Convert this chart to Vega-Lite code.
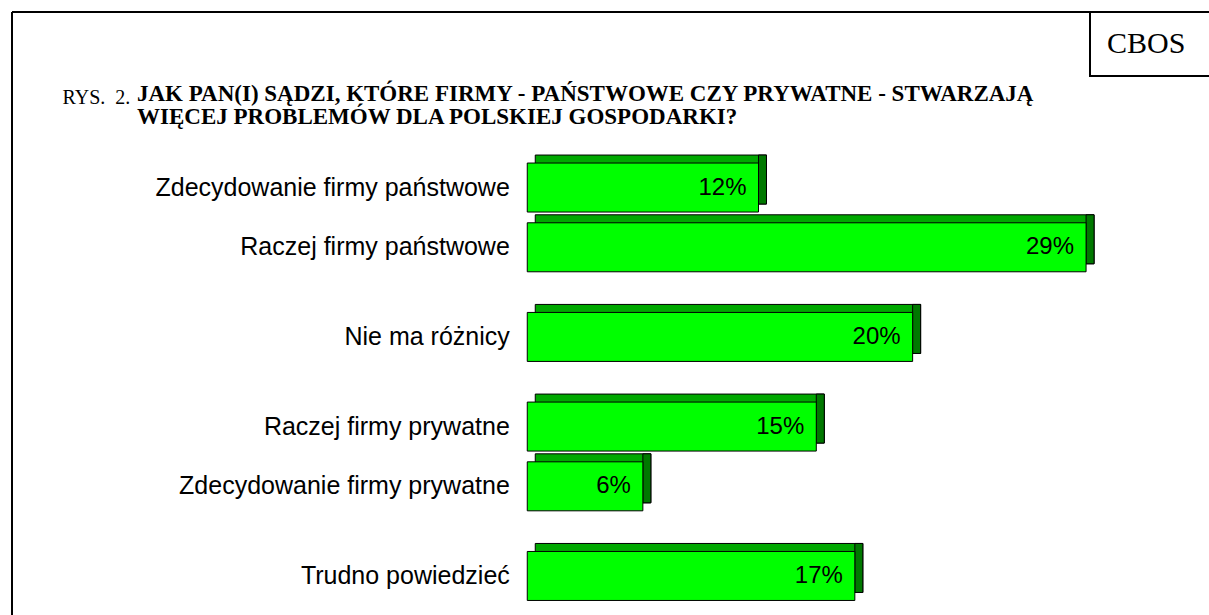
{
  "$schema": "https://vega.github.io/schema/vega-lite/v6.json",
  "autosize": "none",
  "width": 1197,
  "height": 603,
  "padding": {"left": 12, "top": 12, "right": 0, "bottom": 0},
  "background": "white",
  "title": {
    "text": ["JAK PAN(I) SĄDZI, KTÓRE FIRMY - PAŃSTWOWE CZY PRYWATNE - STWARZAJĄ", "WIĘCEJ PROBLEMÓW DLA POLSKIEJ GOSPODARKI?"],
    "anchor": "start",
    "frame": "group",
    "orient": "top",
    "dx": 125,
    "offset": -136,
    "baseline": "alphabetic",
    "font": "Liberation Serif",
    "fontSize": 23,
    "fontWeight": "bold",
    "lineHeight": 23,
    "color": "black"
  },
  "data": {
    "values": [
      {"kategoria": "Zdecydowanie firmy państwowe", "udzial": 0.12, "zrodlo": "CBOS"},
      {"kategoria": "Raczej firmy państwowe", "udzial": 0.29, "zrodlo": "CBOS"},
      {"kategoria": "Nie ma różnicy", "udzial": 0.20, "zrodlo": "CBOS"},
      {"kategoria": "Raczej firmy prywatne", "udzial": 0.15, "zrodlo": "CBOS"},
      {"kategoria": "Zdecydowanie firmy prywatne", "udzial": 0.06, "zrodlo": "CBOS"},
      {"kategoria": "Trudno powiedzieć", "udzial": 0.17, "zrodlo": "CBOS"}
    ]
  },
  "encoding": {
    "y": {
      "field": "kategoria",
      "type": "nominal",
      "scale": {
        "domain": ["Zdecydowanie firmy państwowe", " ", "Raczej firmy państwowe", "  ", "   ", "Nie ma różnicy", "    ", "     ", "Raczej firmy prywatne", "      ", "Zdecydowanie firmy prywatne", "       ", "        ", "Trudno powiedzieć"],
        "range": [160.6, 578.9],
        "paddingInner": 0,
        "paddingOuter": 0
      },
      "axis": {
        "orient": "left",
        "offset": -515.3,
        "domain": false,
        "ticks": false,
        "grid": false,
        "labelPadding": 18,
        "labelFont": "Liberation Sans",
        "labelFontSize": 25,
        "labelColor": "black",
        "labelLimit": 600,
        "title": "RYS.\u00a0\u00a02.",
        "titleAngle": 0,
        "titleAlign": "left",
        "titleBaseline": "alphabetic",
        "titleX": -465.3,
        "titleY": 91,
        "titleFont": "Liberation Serif",
        "titleFontSize": 20,
        "titleFontWeight": "normal",
        "titleColor": "black"
      }
    },
    "x": {
      "field": "udzial",
      "type": "quantitative",
      "scale": {"domain": [-0.2674, 0.3538], "nice": false, "zero": false},
      "axis": null
    }
  },
  "layer": [
    {
      "mark": {"type": "bar", "height": 49, "xOffset": 8, "x2Offset": 8, "yOffset": -8, "fill": "#00A800", "stroke": "black", "strokeWidth": 1},
      "encoding": {"x2": {"datum": 0}}
    },
    {
      "mark": {"type": "bar", "height": 49, "x2Offset": 8, "yOffset": -8, "fill": "#007800", "stroke": "black", "strokeWidth": 1},
      "encoding": {"x2": {"field": "udzial"}}
    },
    {
      "mark": {"type": "bar", "height": 49, "stroke": "black", "strokeWidth": 1},
      "encoding": {
        "x2": {"datum": 0},
        "fill": {
          "field": "zrodlo",
          "type": "nominal",
          "scale": {"domain": ["CBOS", " "], "range": ["#00FF00", "#00FF00"]},
          "legend": {
            "title": null,
            "orient": "none",
            "legendX": 1078,
            "legendY": 0,
            "direction": "horizontal",
            "strokeColor": "black",
            "padding": 17,
            "labelFont": "Liberation Serif",
            "labelFontSize": 30,
            "labelColor": "black",
            "labelOffset": -30,
            "columnPadding": 40,
            "symbolSize": 0,
            "symbolOpacity": 0,
            "symbolStrokeWidth": 0
          }
        }
      }
    },
    {
      "mark": {"type": "text", "align": "right", "baseline": "middle", "dx": -12, "font": "Liberation Sans", "fontSize": 24, "color": "black"},
      "encoding": {"text": {"field": "udzial", "type": "quantitative", "format": ".0%"}}
    }
  ],
  "config": {
    "view": {"stroke": "black", "strokeWidth": 2, "strokeDash": [1197, 1800, 603, 0]},
    "legend": {"strokeWidth": 2}
  }
}
